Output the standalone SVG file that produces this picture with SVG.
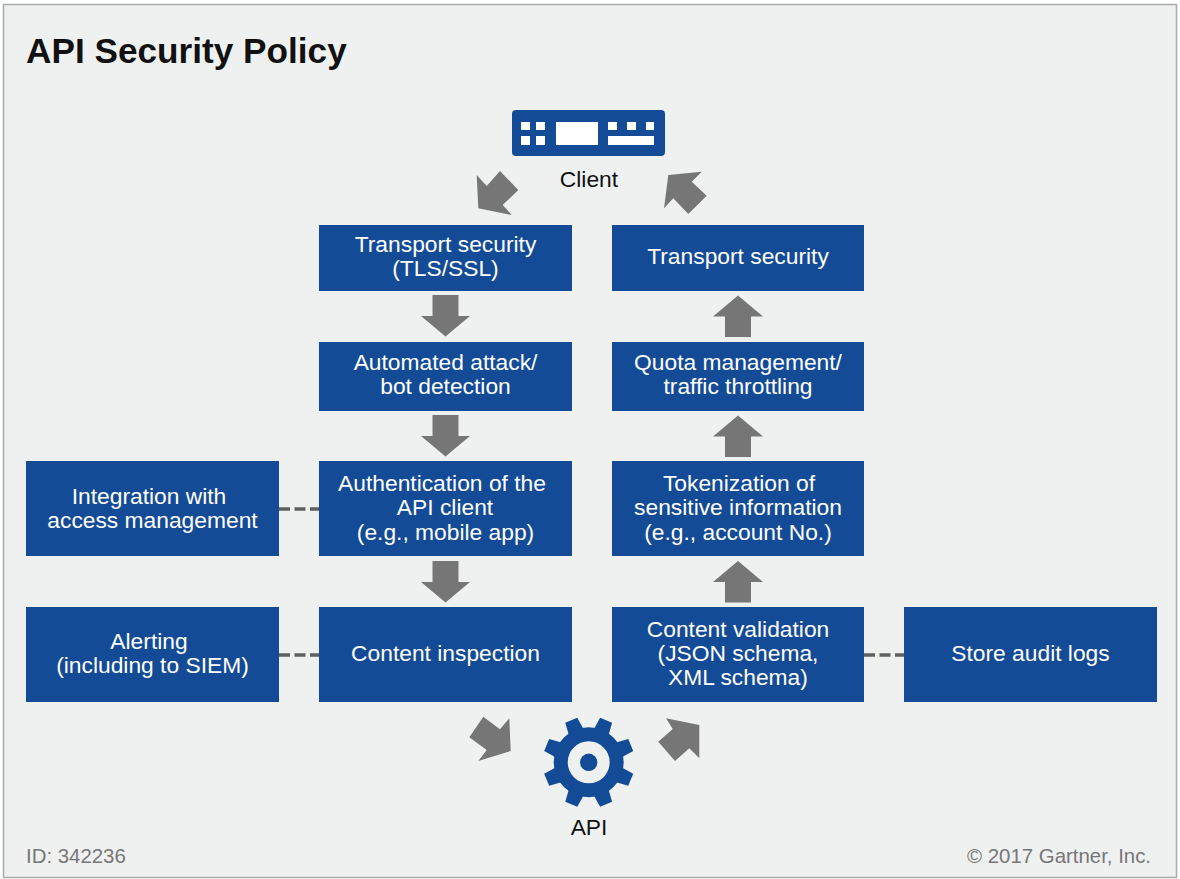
<svg xmlns="http://www.w3.org/2000/svg" width="1180" height="879" viewBox="0 0 1180 879">
<style>
text{font-family:"Liberation Sans",Arial,sans-serif}
.b{fill:#134b96}
.t{fill:#fff;font-size:22.8px;text-anchor:middle}
.l{fill:#111;font-size:22.8px;text-anchor:middle}
.f{fill:#777;font-size:20.4px}
.a{fill:#767676}
.d{stroke:#5f5f5f;stroke-width:3.5;stroke-dasharray:11 4.5;fill:none}
</style>
<defs>
<path id="dn" class="a" d="M-13 0H13V21H24.500L0 41.500L-24.500 21H-13Z"/>
<path id="up" class="a" d="M-13 41.500H13V21H25L0 0L-25 21H-13Z"/>
<path id="tooth" d="M-8 -32H8L6.500 -45.500H-6.500Z"/>
</defs>
<rect x="3.500" y="4.500" width="1173" height="873" fill="#eff1f1" stroke="#a9abab" stroke-width="1.500"/>
<text x="26" y="63" font-size="35.2" font-weight="700" fill="#111">API Security Policy</text>
<g id="client">
<rect class="b" x="512" y="110" width="153" height="46" rx="4"/>
<path fill="#fff" d="M521 122h9v8h-9zM536 122h9v8h-9zM521 136h9v9h-9zM536 136h9v9h-9zM556 122h42v23h-42zM608 122h9v8h-9zM627 122h9v8h-9zM646 122h8v8h-8zM608 136h46v9h-46z"/>
<text class="l" x="589" y="187">Client</text>
</g>
<g id="api">
<g class="b" transform="translate(588.700 762.300)">
<circle r="28" fill="none" stroke="#134b96" stroke-width="14"/>
<circle r="8.700"/>
<use href="#tooth" transform="rotate(22.500)"/>
<use href="#tooth" transform="rotate(67.500)"/>
<use href="#tooth" transform="rotate(112.500)"/>
<use href="#tooth" transform="rotate(157.500)"/>
<use href="#tooth" transform="rotate(202.500)"/>
<use href="#tooth" transform="rotate(247.500)"/>
<use href="#tooth" transform="rotate(292.500)"/>
<use href="#tooth" transform="rotate(337.500)"/>
</g>
<text class="l" x="589" y="835">API</text>
</g>
<g id="connectors">
<path class="a" d="M476.700 175L486.700 186L500 171L518.300 190L502.700 205L511.700 215L478.300 208.300Z"/>
<path class="a" d="M668.300 175L701.700 171.700L691.700 181.700L706.700 195.700L688.300 214L673.300 198.300L664 208.300Z"/>
<path class="a" d="M469.300 737.300L483.300 716.700L500 729.300L509.300 718.300L510.700 751L478.300 761L486.700 750Z"/>
<path class="a" d="M666 718.300L699.300 725L699.300 758.300L689.300 748.300L675 761L658.300 741.700L672.700 729Z"/>
<use href="#dn" x="445.500" y="295"/>
<use href="#dn" x="445.500" y="415"/>
<use href="#dn" x="445.500" y="561"/>
<use href="#up" x="738" y="295.500"/>
<use href="#up" x="738" y="415.500"/>
<use href="#up" x="738" y="561"/>
<path class="d" d="M279 509H319M279 655H319M864 655H904"/>
</g>
<g id="n1"><rect class="b" x="319" y="225" width="253" height="66"/><text class="t" x="445.500" y="252">Transport security</text><text class="t" x="445.500" y="276">(TLS/SSL)</text></g>
<g id="n2"><rect class="b" x="319" y="342" width="253" height="69"/><text class="t" x="445.500" y="370">Automated attack/</text><text class="t" x="445.500" y="394">bot detection</text></g>
<g id="n3"><rect class="b" x="319" y="461" width="253" height="95"/><text class="t" x="442" y="491">Authentication of the</text><text class="t" x="445" y="515">API client</text><text class="t" x="445.500" y="540">(e.g., mobile app)</text></g>
<g id="n4"><rect class="b" x="319" y="607" width="253" height="95"/><text class="t" x="445.500" y="661">Content inspection</text></g>
<g id="n5"><rect class="b" x="612" y="225" width="252" height="66"/><text class="t" x="738" y="264">Transport security</text></g>
<g id="n6"><rect class="b" x="612" y="342" width="252" height="69"/><text class="t" x="738" y="370">Quota management/</text><text class="t" x="738" y="394">traffic throttling</text></g>
<g id="n7"><rect class="b" x="612" y="461" width="252" height="95"/><text class="t" x="739" y="491">Tokenization of</text><text class="t" x="738" y="515">sensitive information</text><text class="t" x="738" y="540">(e.g., account No.)</text></g>
<g id="n8"><rect class="b" x="612" y="607" width="252" height="95"/><text class="t" x="738" y="637">Content validation</text><text class="t" x="738" y="661">(JSON schema,</text><text class="t" x="738" y="685">XML schema)</text></g>
<g id="n9"><rect class="b" x="26" y="461" width="253" height="95"/><text class="t" x="149" y="504">Integration with</text><text class="t" x="152.500" y="528">access management</text></g>
<g id="n10"><rect class="b" x="26" y="607" width="253" height="95"/><text class="t" x="149" y="649">Alerting</text><text class="t" x="152.500" y="673">(including to SIEM)</text></g>
<g id="n11"><rect class="b" x="904" y="607" width="253" height="95"/><text class="t" x="1030.500" y="661">Store audit logs</text></g>
<text class="f" x="26" y="863">ID: 342236</text>
<text class="f" x="1151" y="863" text-anchor="end">© 2017 Gartner, Inc.</text>
</svg>
